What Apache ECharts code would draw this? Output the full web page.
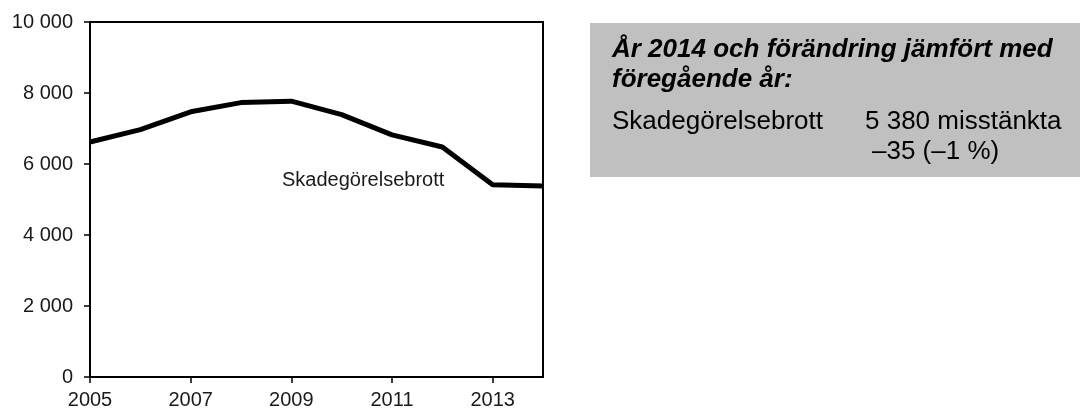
<!DOCTYPE html>
<html>
<head>
<meta charset="utf-8">
<script src="https://cdn.jsdelivr.net/npm/echarts@6/dist/echarts.min.js"></script>
<style>
  html, body { margin: 0; padding: 0; background: #fff; }
  #chart { width: 1080px; height: 412px; }
</style>
</head>
<body>
<div id="chart"></div>
<script>
const years = ['2005', '2006', '2007', '2008', '2009', '2010', '2011', '2012', '2013', '2014']
const suspects = [6620, 6970, 7470, 7730, 7770, 7390, 6820, 6480, 5415, 5380]
const yTicks = [0, 2000, 4000, 6000, 8000, 10000]
const seriesName = 'Skadegörelsebrott'
const boxTitle = ['År 2014 och förändring jämfört med', 'föregående år:']
const boxRow = ['Skadegörelsebrott', '5 380 misstänkta', '–35 (–1 %)']

const font = '"Liberation Sans", Arial, sans-serif'
const fmt = v => String(v).replace(/\B(?=(\d{3})+(?!\d))/g, ' ')

let myChart = echarts.init(document.getElementById('chart'))
myChart.setOption({
    animation: false,
    textStyle: { fontFamily: font },
    grid: {
        left: 90, right: 537, top: 22, bottom: 35,
        show: true,
        borderColor: '#000',
        borderWidth: 2
    },
    xAxis: {
        type: 'category',
        data: years,
        boundaryGap: false,
        axisLine: { lineStyle: { color: '#000', width: 2 } },
        axisTick: { interval: 1, length: 6, lineStyle: { color: '#000', width: 1.5 } },
        axisLabel: { interval: 1, color: '#1a1a1a', fontSize: 20, margin: 13, fontFamily: font }
    },
    yAxis: {
        type: 'value',
        min: yTicks[0],
        max: yTicks[yTicks.length - 1],
        interval: 2000,
        axisLine: { show: true, lineStyle: { color: '#000', width: 2 } },
        axisTick: { show: true, length: 6, lineStyle: { color: '#000', width: 1.5 } },
        splitLine: { show: false },
        axisLabel: { color: '#1a1a1a', fontSize: 20, margin: 17, fontFamily: font, formatter: fmt }
    },
    series: [{
        name: seriesName,
        type: 'line',
        data: suspects,
        symbol: 'none',
        lineStyle: { color: '#000', width: 5, join: 'round' }
    }],
    graphic: [
        {
            type: 'text', left: 282, top: 170,
            style: { text: seriesName, font: '20px ' + font, fill: '#1a1a1a' }
        },
        {
            type: 'rect', left: 590, top: 23,
            shape: { width: 490, height: 154 },
            style: { fill: '#c0c0c0' }
        },
        {
            type: 'text', left: 612, top: 35,
            style: { text: boxTitle.join('\n'), font: 'italic bold 26px ' + font, lineHeight: 30, fill: '#000' }
        },
        {
            type: 'text', left: 612, top: 109,
            style: { text: boxRow[0], font: '26px ' + font, fill: '#000' }
        },
        {
            type: 'text', left: 865, top: 109,
            style: { text: boxRow[1], font: '26px ' + font, fill: '#000' }
        },
        {
            type: 'text', left: 872, top: 139,
            style: { text: boxRow[2], font: '26px ' + font, fill: '#000' }
        }
    ]
})
</script>
</body>
</html>
